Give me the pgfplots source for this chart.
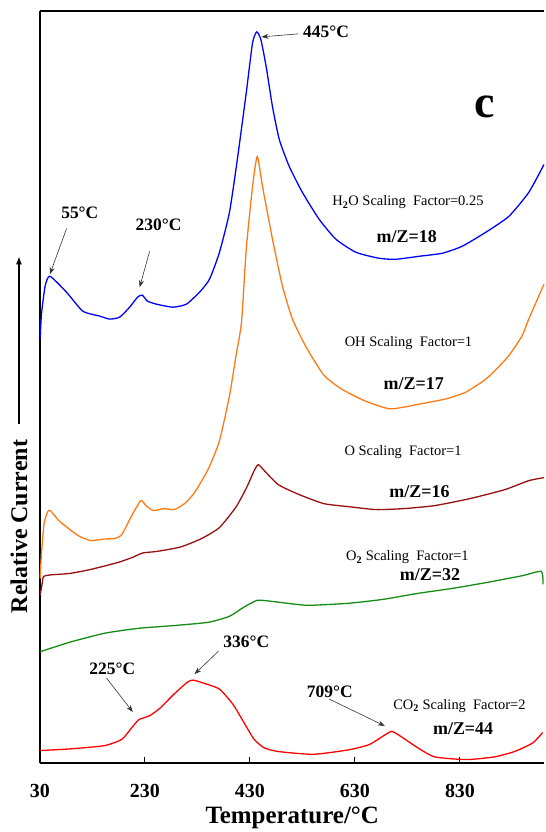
\documentclass[border=0pt]{standalone}
\usepackage{pgfplots}
\pgfplotsset{compat=1.18}
\usepackage{fontspec}
\setmainfont{Liberation Serif}
\usetikzlibrary{arrows.meta}
\definecolor{cblue}{RGB}{0,0,255}
\definecolor{corange}{RGB}{255,122,20}
\definecolor{cbrown}{RGB}{150,16,16}
\definecolor{cgreen}{RGB}{20,140,20}
\definecolor{cred}{RGB}{255,0,0}
\tikzset{
  ann/.style={font=\fontsize{17.5}{20}\selectfont\bfseries},
  mz/.style={font=\fontsize{18}{21}\selectfont\bfseries},
  sf/.style={font=\fontsize{14.5}{16}\selectfont},
  arr/.style={-{Stealth[length=7pt,width=5pt]}, line width=0.6pt, black!80},
}
\begin{document}
\begin{tikzpicture}
\begin{axis}[
  scale only axis, width=506pt, height=754pt,
  xmin=30, xmax=991, ymin=0, ymax=754,
  axis x line=box, axis y line=left, axis line style={-, line width=1.3pt, black},
  xtick={30,230,430,630,830}, ytick=\empty, xtick pos=left,
  tick align=inside, major tick length=6pt, tick style={black, line width=1pt},
  /pgf/number format/assume math mode=true,
  xticklabel style={font=\fontsize{20}{24}\selectfont\bfseries, yshift=-18pt},
  clip=false,
  every axis plot/.append style={line width=1.3pt, no markers, smooth, tension=0.35},
]
% H2O m/Z=18
\addplot[cblue] coordinates {(30.5,425)(33,450)(40,478)(49,488)(80.7,472)(111.7,453)(144,448)(163,445)(182,447)(201,457)(216,467)(225,469)(235,463)(252,460)(283,457)(309,460)(334,472)(353,485)(372,512)(391,552)(406,605)(423,672)(435,722)(443,733)(451,725)(461,698)(473,658)(486,625)(505,598)(530,572)(562,545)(594,525)(632,512)(676,506)(708,505)(752,508)(796,511)(834,518)(879,532)(923,548)(961,572)(990,600)};
% OH m/Z=17
\addplot[corange] coordinates {(30.5,185)(33,210)(38,240)(45,252)(50,253)(66,243)(87,234)(106,227)(127,223)(153.5,224.5)(172.5,225)(186,229)(203,246)(222,263)(232,258)(246,253)(266,255)(286,254)(305.5,260)(324.5,271)(351,295)(372,323)(391,368)(404,410)(414,442)(423,515)(435,578)(444,608)(454,578)(473,525)(492,478)(511,445)(537,417)(570.5,389)(604,375)(649,363)(697,355)(750,359.5)(803,365)(842,372)(882,386)(921,407)(948,428)(961,445)(990,480)};
% O m/Z=16
\addplot[cbrown] coordinates {(30.5,168)(35,182)(37,187)(50,188.5)(87,190)(127,194)(179,201)(206,206)(226,210.5)(252,212)(298,216.5)(338,225)(372,236)(404,257)(425,277.5)(438,293)(446,299)(457.5,293)(484,279)(524,269)(570.5,260)(617,257)(670,254)(723.5,255)(782,258)(849,265)(915.5,274)(961,283)(990,286)};
% O2 m/Z=32
\addplot[cgreen] coordinates {(30.5,111.5)(87,121)(153,130)(219,135)(285.5,137.7)(351,141)(391,147)(418,156)(444,163)(471,162)(517.5,159)(544,158)(617,160)(684,164)(750,170)(816,175)(882,181)(948,187.6)(985,192)(988,179)};
% CO2 m/Z=44
\addplot[cred] coordinates {(30.5,12.4)(87,14)(153,17.3)(186,23.6)(206,36)(219,43.5)(239,47.3)(259,55)(285.5,69)(311,81)(322,83)(345,79.4)(372,74)(398,58.5)(418,41)(438,23.6)(457.5,15)(484,11.4)(550.6,8.6)(617,13)(657,18.3)(684,27)(700,31.6)(716,27)(750,15)(782,6)(842,3.3)(895.5,6)(934,11.4)(968.6,20)(987.6,30.5)};

% annotations
\node[ann] at (axis cs:575,733) {445\textdegree C};
\draw[arr] (axis cs:522,731) -- (axis cs:452,728);
\node[ann] at (axis cs:106,552) {55\textdegree C};
\draw[arr] (axis cs:81,536) -- (axis cs:49,490);
\node[ann] at (axis cs:256,540) {230\textdegree C};
\draw[arr] (axis cs:239,513) -- (axis cs:220,477);
\node[ann] at (axis cs:423,121) {336\textdegree C};
\draw[arr] (axis cs:370,112) -- (axis cs:324.5,89);
\node[ann] at (axis cs:168,94) {225\textdegree C};
\draw[arr] (axis cs:157,85) -- (axis cs:207,51);
\node[ann] at (axis cs:582,71) {709\textdegree C};
\draw[arr] (axis cs:581,64) -- (axis cs:687,37);

\node[sf] at (axis cs:731,562) {H\textsubscript{\textbf{2}}O Scaling\ \ Factor=0.25};
\node[mz] at (axis cs:728.6,528) {m/Z=18};
\node[sf] at (axis cs:732,420.6) {OH Scaling\ \ Factor=1};
\node[mz] at (axis cs:742,380.5) {m/Z=17};
\node[sf] at (axis cs:721.6,312) {O Scaling\ \ Factor=1};
\node[mz] at (axis cs:753,272) {m/Z=16};
\node[sf] at (axis cs:730,206) {O\textsubscript{\textbf{2}} Scaling\ \ Factor=1};
\node[mz] at (axis cs:773,189) {m/Z=32};
\node[sf] at (axis cs:829,57) {CO\textsubscript{\textbf{2}} Scaling\ \ Factor=2};
\node[mz] at (axis cs:836,34) {m/Z=44};
\node[font=\fontsize{46}{50}\selectfont\bfseries] at (axis cs:877,658) {c};

% axis labels
\node[rotate=90, font=\fontsize{24}{28}\selectfont\bfseries] at ([xshift=-21pt]axis cs:30,237) {Relative Current};
\draw[-{Latex[length=8pt,width=6pt]}, line width=1.5pt] ([xshift=-21pt]axis cs:30,340) -- ([xshift=-21pt]axis cs:30,508);
\node[font=\fontsize{25}{29}\selectfont\bfseries] at ([yshift=-55pt]axis cs:510.5,0) {Temperature/\textdegree C};

\coordinate (bl) at (axis cs:30,0);
\coordinate (tr) at (axis cs:991,754);
\end{axis}
\path ([shift={(-40pt,-67pt)}]bl) rectangle ([shift={(1pt,11pt)}]tr);
\end{tikzpicture}
\end{document}
